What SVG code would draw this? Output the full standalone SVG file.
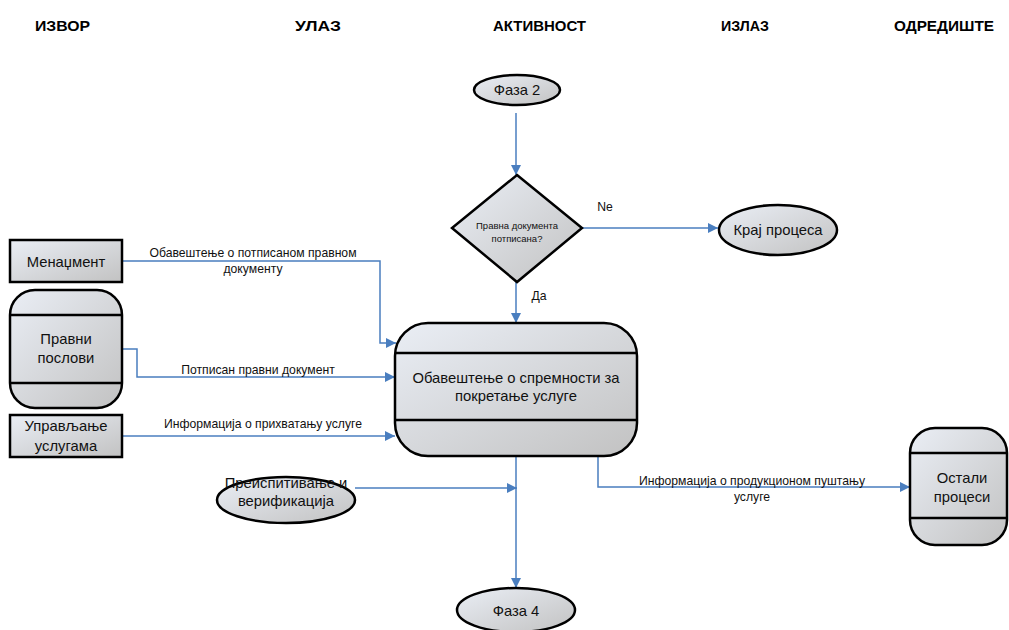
<svg xmlns="http://www.w3.org/2000/svg" width="1009" height="630" viewBox="0 0 1009 630">
<defs>
<linearGradient id="g" x1="0" y1="0" x2="1" y2="1">
<stop offset="0" stop-color="#eaeef5"/>
<stop offset="1" stop-color="#c2c2c2"/>
</linearGradient>
<marker id="arr" viewBox="0 0 10 10" refX="10" refY="5" markerWidth="10" markerHeight="10" markerUnits="userSpaceOnUse" orient="auto">
<path d="M0,0 L10,5 L0,10 z" fill="#4a7ebf"/>
</marker>
<style>
.shape{fill:url(#g);stroke:#000;stroke-width:2.5}
.div{stroke:#000;stroke-width:2.5}
.conn{fill:none;stroke:#4a7ebf;stroke-width:1.5}
.t{font-family:"Liberation Sans",Arial,sans-serif;font-size:14.8px;fill:#111;text-anchor:middle;dominant-baseline:central}
.l{font-family:"Liberation Sans",Arial,sans-serif;font-size:12.2px;fill:#111;text-anchor:middle;dominant-baseline:central}
.s{font-family:"Liberation Sans",Arial,sans-serif;font-size:9.5px;fill:#111;text-anchor:middle;dominant-baseline:central}
.h{font-family:"Liberation Sans",Arial,sans-serif;font-size:15px;font-weight:bold;fill:#000;dominant-baseline:central}
</style>
</defs>
<g id="headers">
<text class="h" x="35" y="25" textLength="55" lengthAdjust="spacingAndGlyphs">ИЗВОР</text>
<text class="h" x="295" y="25" textLength="46" lengthAdjust="spacingAndGlyphs">УЛАЗ</text>
<text class="h" x="493" y="25" textLength="93" lengthAdjust="spacingAndGlyphs">АКТИВНОСТ</text>
<text class="h" x="721" y="25" textLength="48" lengthAdjust="spacingAndGlyphs">ИЗЛАЗ</text>
<text class="h" x="894" y="25" textLength="100" lengthAdjust="spacingAndGlyphs">ОДРЕДИШТЕ</text>
</g>
<g id="connectors">
<path class="conn" d="M516,113 V175" marker-end="url(#arr)"/>
<path class="conn" d="M582,228 H718" marker-end="url(#arr)"/>
<path class="conn" d="M516,282 V323" marker-end="url(#arr)"/>
<path class="conn" d="M122,261 H380 V343 H396" marker-end="url(#arr)"/>
<path class="conn" d="M122,349 H137 V377 H395" marker-end="url(#arr)"/>
<path class="conn" d="M122,436 H395" marker-end="url(#arr)"/>
<path class="conn" d="M355,488 H517" marker-end="url(#arr)"/>
<path class="conn" d="M516,456 V588" marker-end="url(#arr)"/>
<path class="conn" d="M598,456 V487 H910" marker-end="url(#arr)"/>
<text class="l" x="253" y="253">Обавештење о потписаном правном</text>
<text class="l" x="253" y="269">документу</text>
<text class="l" x="258" y="370">Потписан правни документ</text>
<text class="l" x="263" y="424">Информација о прихватању услуге</text>
<text class="l" x="752" y="481">Информација о продукционом пуштању</text>
<text class="l" x="752" y="497">услуге</text>
<text class="l" x="605" y="207">Ne</text>
<text class="l" x="539" y="296">Да</text>
</g>
<g id="faza2">
<ellipse class="shape" cx="517" cy="90" rx="43" ry="15"/>
<text class="t" x="517" y="90">Фаза 2</text>
</g>
<g id="odluka">
<path class="shape" d="M517,175 L582,228 L517,282 L452,228 Z"/>
<text class="s" x="517" y="225">Правна документа</text>
<text class="s" x="517" y="238">потписана?</text>
</g>
<g id="kraj">
<ellipse class="shape" cx="778" cy="230" rx="59" ry="25"/>
<text class="t" x="778" y="230">Крај процеса</text>
</g>
<g id="menadzment">
<rect class="shape" x="10" y="240" width="112" height="42"/>
<text class="t" x="66" y="262">Менаџмент</text>
</g>
<g id="pravni">
<rect class="shape" x="10" y="290" width="112" height="118" rx="25"/>
<line class="div" x1="10" y1="315" x2="122" y2="315"/>
<line class="div" x1="10" y1="383" x2="122" y2="383"/>
<text class="t" x="66" y="339">Правни</text>
<text class="t" x="66" y="358">послови</text>
</g>
<g id="upravljanje">
<rect class="shape" x="10" y="415" width="112" height="42"/>
<text class="t" x="66" y="426">Управљање</text>
<text class="t" x="66" y="446">услугама</text>
</g>
<g id="preispitivanje">
<ellipse class="shape" cx="286" cy="500" rx="69" ry="23"/>
<text class="t" x="286" y="483">Преиспитивање и</text>
<text class="t" x="286" y="501">верификација</text>
</g>
<g id="aktivnost">
<rect class="shape" x="395" y="323" width="242" height="133" rx="33"/>
<line class="div" x1="395" y1="353" x2="637" y2="353"/>
<line class="div" x1="395" y1="420" x2="637" y2="420"/>
<text class="t" x="516" y="378">Обавештење о спремности за</text>
<text class="t" x="516" y="396">покретање услуге</text>
</g>
<g id="faza4">
<ellipse class="shape" cx="516" cy="610" rx="59" ry="22"/>
<text class="t" x="516" y="611">Фаза 4</text>
</g>
<g id="ostali">
<rect class="shape" x="910" y="428" width="97" height="117" rx="25"/>
<line class="div" x1="910" y1="453" x2="1007" y2="453"/>
<line class="div" x1="910" y1="518" x2="1007" y2="518"/>
<text class="t" x="962" y="478">Остали</text>
<text class="t" x="962" y="497">процеси</text>
</g>
</svg>
